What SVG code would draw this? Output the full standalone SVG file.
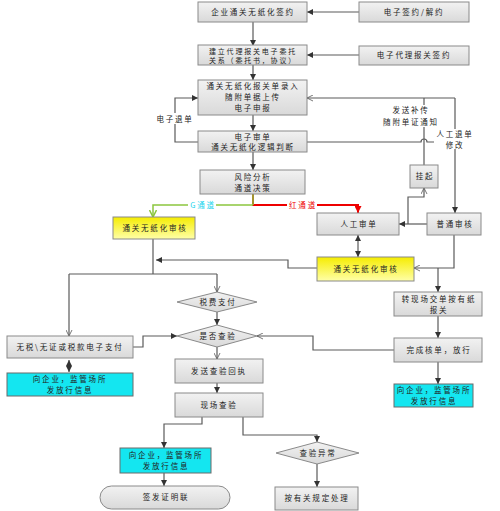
<svg xmlns="http://www.w3.org/2000/svg" width="500" height="511" viewBox="0 0 500 511">
<defs>
<linearGradient id="gg" x1="0" y1="0" x2="0" y2="1"><stop offset="0" stop-color="#f2f2f2"/><stop offset="1" stop-color="#d9d9d9"/></linearGradient>
<linearGradient id="yg" x1="0" y1="0" x2="0" y2="1"><stop offset="0" stop-color="#f5ec00"/><stop offset="1" stop-color="#ffffa8"/></linearGradient>
<marker id="a" markerUnits="userSpaceOnUse" markerWidth="7" markerHeight="6" refX="6" refY="3" orient="auto"><path d="M0,0 L6,3 L0,6 z" fill="#333"/></marker>
<marker id="as" markerUnits="userSpaceOnUse" markerWidth="7" markerHeight="6" refX="1" refY="3" orient="auto"><path d="M7,0 L1,3 L7,6 z" fill="#333"/></marker>
<marker id="ao" markerUnits="userSpaceOnUse" markerWidth="7" markerHeight="7" refX="6" refY="3.5" orient="auto"><path d="M0,0.5 L6,3.5 L0,6.5" fill="none" stroke="#555" stroke-width="0.8"/></marker>
<marker id="ar" markerUnits="userSpaceOnUse" markerWidth="8" markerHeight="7" refX="7" refY="3.5" orient="auto"><path d="M0,0 L7,3.5 L0,7 z" fill="#e00"/></marker>
<marker id="ag" markerUnits="userSpaceOnUse" markerWidth="8" markerHeight="8" refX="7" refY="4" orient="auto"><path d="M0,0.5 L7,4 L0,7.5" fill="none" stroke="#8cc63f" stroke-width="1.5"/></marker>
</defs>
<style>
.b{fill:url(#gg);stroke:#8a8a8a;stroke-width:1}
.y{fill:url(#yg);stroke:#8a8a8a;stroke-width:1}
.c{fill:#14e6f0;stroke:#6a6a6a;stroke-width:1}
.t{font-family:"Noto Sans CJK SC","Liberation Sans",sans-serif;font-size:7.5px;letter-spacing:1.8px;fill:#222;text-anchor:middle}
.s{font-size:7px}
.l{fill:none;stroke:#5a5a5a;stroke-width:1.2}
.bg{fill:#fff}
</style>
<g id="connectors">
<path class="l" d="M359,12 H307" marker-end="url(#a)"/>
<path class="l" d="M253,22 V46" marker-end="url(#a)"/>
<path class="l" d="M359,55 H307" marker-end="url(#a)"/>
<path class="l" d="M253,65 V80" marker-end="url(#a)"/>
<path class="l" d="M253,115 V131" marker-end="url(#a)"/>
<path class="l" d="M253,152 V170" marker-end="url(#a)"/>
<path class="l" d="M198,142 H175 V98 H198" marker-end="url(#a)"/>
<path class="l" d="M455,98 H307" marker-end="url(#ao)"/>
<path class="l" d="M424,165 V98"/>
<path class="l" d="M307,142 H421 A3,3 0 0 1 427,142 H455"/>
<path class="l" d="M455,98 V213" marker-end="url(#a)"/>
<path d="M253,194 V205 H358 V213" fill="none" stroke="#e00" stroke-width="2" marker-end="url(#ar)"/>
<path d="M253,194 V205" fill="none" stroke="#8cc63f" stroke-width="1.5"/>
<path d="M253,205 H153 V217" fill="none" stroke="#8cc63f" stroke-width="1.5" marker-end="url(#ag)"/>
<path class="l" d="M427,224 H399" marker-end="url(#a)"/>
<path class="l" d="M408,224 V197 H424 V188" marker-end="url(#ao)"/>
<path class="l" d="M358,235 V257" marker-end="url(#a)" marker-start="url(#as)"/>
<path class="l" d="M454,235 V268 H414" marker-end="url(#ao)"/>
<path class="l" d="M438,268 V292" marker-end="url(#a)"/>
<path class="l" d="M317,268 H288 V260 H156" marker-end="url(#a)"/>
<path class="l" d="M153,239 V274"/>
<path class="l" d="M69,274 H217"/>
<path class="l" d="M69,274 V336" marker-end="url(#ao)"/>
<path class="l" d="M217,274 V292" marker-end="url(#ao)"/>
<path class="l" d="M217,312 V325" marker-end="url(#a)"/>
<path class="l" d="M133,347 H143 V336 H177" marker-end="url(#a)"/>
<path class="l" d="M69,360 V372" marker-end="url(#a)" marker-start="url(#as)"/>
<path class="l" d="M217,347 V359" marker-end="url(#ao)"/>
<path class="l" d="M217,383 V393" marker-end="url(#a)"/>
<path class="l" d="M438,316 V338" marker-end="url(#a)"/>
<path class="l" d="M394,350 H313 V336 H257" marker-end="url(#ao)"/>
<path class="l" d="M438,362 V384" marker-end="url(#a)"/>
<path class="l" d="M202,417 V424 H164 V448" marker-end="url(#a)"/>
<path class="l" d="M164,473 V486" marker-end="url(#a)"/>
<path class="l" d="M243,417 V435 H317 V442" marker-end="url(#a)"/>
<path class="l" d="M317,464 V487" marker-end="url(#a)"/>
<rect class="bg" x="154" y="113" width="40" height="11"/>
<text class="t" x="175" y="122">电子退单</text>
<rect class="bg" x="386" y="105" width="50" height="22"/>
<text class="t" x="411" y="113">发送补传</text>
<text class="t" x="411" y="125">随附单证通知</text>
<rect class="bg" x="434" y="129" width="40" height="20"/>
<text class="t" x="455" y="137">人工退单</text>
<text class="t" x="455" y="148">修改</text>
<rect class="bg" x="188" y="200" width="28" height="10"/>
<text class="t" x="203" y="208" style="fill:#19d4ee">G通道</text>
<rect class="bg" x="287" y="200" width="30" height="10"/>
<text class="t" x="303" y="208" style="fill:#e00">红通道</text>
</g>
<g id="n1"><rect class="b" x="198" y="2" width="109" height="20"/><text class="t" x="253" y="15">企业通关无纸化签约</text></g>
<g id="n2"><rect class="b" x="359" y="2" width="110" height="20"/><text class="t" x="414" y="15">电子签约/解约</text></g>
<g id="n3"><rect class="b" x="198" y="45" width="109" height="20"/><text class="t s" x="253" y="53.5">建立代理报关电子委托</text><text class="t s" x="253" y="62.5">关系（委托书，协议）</text></g>
<g id="n4"><rect class="b" x="359" y="46" width="110" height="19"/><text class="t" x="414" y="58">电子代理报关签约</text></g>
<g id="n5"><rect class="b" x="198" y="80" width="109" height="35"/><text class="t" x="253" y="89">通关无纸化报关单录入</text><text class="t" x="253" y="100">随附单据上传</text><text class="t" x="253" y="111">电子申报</text></g>
<g id="n6"><rect class="b" x="198" y="131" width="109" height="21"/><text class="t" x="253" y="140">电子审单</text><text class="t" x="253" y="150">通关无纸化逻辑判断</text></g>
<g id="n7"><rect class="b" x="200" y="170" width="105" height="24"/><text class="t" x="253" y="180">风险分析</text><text class="t" x="253" y="191">通道决策</text></g>
<g id="n8"><rect class="b" x="410" y="165" width="28" height="23"/><text class="t" x="425" y="179">挂起</text></g>
<g id="n9"><rect class="b" x="317" y="213" width="82" height="22"/><text class="t" x="359" y="227">人工审单</text></g>
<g id="n10"><rect class="b" x="427" y="213" width="54" height="22"/><text class="t" x="455" y="227">普通审核</text></g>
<g id="n11"><rect class="y" x="113" y="217" width="82" height="22"/><text class="t" x="155" y="231">通关无纸化审核</text></g>
<g id="n12"><rect class="y" x="317" y="257" width="97" height="24"/><text class="t" x="366" y="272">通关无纸化审核</text></g>
<g id="n13"><polygon class="b" points="177,302 217,292 257,302 217,312"/><text class="t" x="218" y="305">税费支付</text></g>
<g id="n14"><polygon class="b" points="177,336 217,325 257,336 217,347"/><text class="t" x="218" y="339">是否查验</text></g>
<g id="n15"><rect class="b" x="394" y="292" width="88" height="24"/><text class="t" x="439" y="302">转现场交单按有纸</text><text class="t" x="439" y="313">报关</text></g>
<g id="n16"><rect class="b" x="394" y="338" width="88" height="24"/><text class="t" x="439" y="353">完成核单，放行</text></g>
<g id="n17"><rect class="c" x="394" y="384" width="79" height="23"/><text class="t" x="434" y="393">向企业，监管场所</text><text class="t" x="434" y="404">发放行信息</text></g>
<g id="n18"><rect class="b" x="7" y="336" width="126" height="22"/><text class="t" x="70" y="350">无税\无证或税款电子支付</text></g>
<g id="n19"><rect class="c" x="7" y="373" width="126" height="23"/><text class="t" x="70" y="382">向企业，监管场所</text><text class="t" x="70" y="393">发放行信息</text></g>
<g id="n20"><rect class="b" x="175" y="359" width="88" height="24"/><text class="t" x="219" y="374">发送查验回执</text></g>
<g id="n21"><rect class="b" x="175" y="393" width="88" height="24"/><text class="t" x="219" y="408">现场查验</text></g>
<g id="n22"><rect class="c" x="120" y="448" width="91" height="25"/><text class="t" x="166" y="458">向企业，监管场所</text><text class="t" x="166" y="469">发放行信息</text></g>
<g id="n23"><rect class="b" x="100" y="486" width="130" height="23" rx="11.5"/><text class="t" x="166" y="500">签发证明联</text></g>
<g id="n24"><polygon class="b" points="276,453 317,442 359,453 317,464"/><text class="t" x="318" y="456">查验异常</text></g>
<g id="n25"><rect class="b" x="275" y="487" width="83" height="23"/><text class="t" x="317" y="501">按有关规定处理</text></g>
</svg>
